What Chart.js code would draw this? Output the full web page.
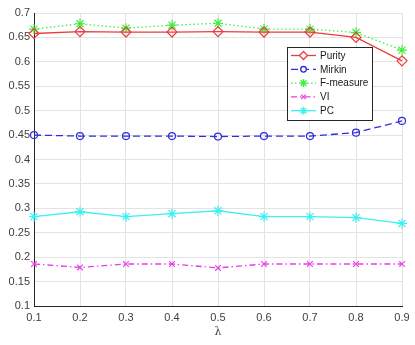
<!DOCTYPE html>
<html>
<head>
<meta charset="utf-8">
<script src="https://cdn.jsdelivr.net/npm/chart.js@4.4.0/dist/chart.umd.min.js"></script>
<style>
  html, body { margin: 0; padding: 0; background: #fff; }
  #wrap { width: 415px; height: 345px; }
</style>
</head>
<body>
<div id="wrap"><canvas id="chart" width="415" height="345"></canvas></div>
<script>
const lambdas = [0.1, 0.2, 0.3, 0.4, 0.5, 0.6, 0.7, 0.8, 0.9];
const purity = [0.658, 0.662, 0.661, 0.661, 0.662, 0.661, 0.661, 0.650, 0.602];
const mirkin = [0.450, 0.448, 0.448, 0.448, 0.447, 0.448, 0.448, 0.455, 0.479];
const fMeasure = [0.667, 0.678, 0.669, 0.675, 0.679, 0.667, 0.667, 0.660, 0.624];
const vi = [0.186, 0.179, 0.186, 0.186, 0.178, 0.186, 0.186, 0.186, 0.186];
const pc = [0.283, 0.293, 0.283, 0.289, 0.295, 0.283, 0.283, 0.281, 0.269];
const seriesNames = ["Purity", "Mirkin", "F-measure", "VI", "PC"];

const font = "'Liberation Sans', Arial, sans-serif";

function toPoints(values) {
  return values.map((v, i) => ({ x: lambdas[i], y: v }));
}

function makeSet(label, values, color, dash, style, radius) {
  return {
    label: label,
    data: toPoints(values),
    borderColor: color,
    backgroundColor: "rgba(0,0,0,0)",
    pointBorderColor: color,
    pointBackgroundColor: "rgba(0,0,0,0)",
    borderWidth: 1.3,
    borderDash: dash,
    pointStyle: style,
    pointRadius: radius,
    pointBorderWidth: 1.2,
    tension: 0,
    clip: false,
  };
}

const datasets = [
  makeSet(seriesNames[0], purity, "#ee3b3b", [], "rectRot", 5),
  makeSet(seriesNames[1], mirkin, "#2f2fd6", [7, 4], "circle", 3.5),
  makeSet(seriesNames[2], fMeasure, "#3ef03e", [1.5, 2.5], "star", 5),
  makeSet(seriesNames[3], vi, "#e83ee8", [6, 3, 1.5, 3], "crossRot", 4),
  makeSet(seriesNames[4], pc, "#3ef0f0", [], "star", 5),
];

// legend box inside the plot, drawn like the MATLAB one
const boxLegend = {
  id: "boxLegend",
  afterDraw(chart) {
    const ctx = chart.ctx;
    const x0 = 287, y0 = 47, w = 85, h = 73;
    ctx.save();
    ctx.fillStyle = "#fff";
    ctx.fillRect(x0, y0, w, h);
    ctx.strokeStyle = "#262626";
    ctx.lineWidth = 1;
    ctx.strokeRect(x0 + 0.5, y0 + 0.5, w, h);
    chart.data.datasets.forEach((ds, i) => {
      const y = 55.5 + i * 13.8;
      ctx.strokeStyle = ds.borderColor;
      ctx.lineWidth = 1.3;
      ctx.setLineDash(ds.borderDash);
      ctx.beginPath();
      ctx.moveTo(291, y);
      ctx.lineTo(316, y);
      ctx.stroke();
      ctx.setLineDash([]);
      ctx.fillStyle = "#fff";
      Chart.helpers.drawPoint(ctx, {
        pointStyle: ds.pointStyle,
        radius: ds.pointRadius * 0.8,
        borderWidth: 1.2,
        rotation: 0,
      }, 303.5, y);
      ctx.fillStyle = "#1a1a1a";
      ctx.font = "10px " + font;
      ctx.textBaseline = "middle";
      ctx.fillText(ds.label, 320, y + 0.5);
    });
    ctx.restore();
  },
};

new Chart(document.getElementById("chart"), {
  type: "line",
  data: { datasets: datasets },
  options: {
    responsive: false,
    animation: false,
    layout: { padding: { left: 0, right: 13, top: 13, bottom: 6 } },
    plugins: {
      legend: { display: false },
      tooltip: { enabled: false },
    },
    scales: {
      x: {
        type: "linear",
        min: 0.1,
        max: 0.9,
        ticks: {
          stepSize: 0.1,
          color: "#404040",
          font: { family: font, size: 11 },
          padding: 5,
          maxRotation: 0,
          callback: (v) => String(Math.round(v * 10) / 10),
        },
        grid: { color: "#e3e3e3", drawTicks: false },
        border: { color: "#262626", width: 1 },
        title: {
          display: true,
          text: "λ",
          color: "#404040",
          font: { family: "'DejaVu Serif', serif", size: 11 },
          padding: { top: 0, bottom: 0 },
        },
        afterFit: (scale) => { scale.height = 33; },
      },
      y: {
        min: 0.1,
        max: 0.7,
        ticks: {
          stepSize: 0.05,
          color: "#404040",
          font: { family: font, size: 11 },
          padding: 4,
          callback: (v) => String(Math.round(v * 100) / 100),
        },
        grid: { color: "#e3e3e3", drawTicks: false },
        border: { color: "#262626", width: 1 },
        afterFit: (scale) => { scale.width = 34; },
      },
    },
  },
  plugins: [boxLegend],
});
</script>
</body>
</html>
